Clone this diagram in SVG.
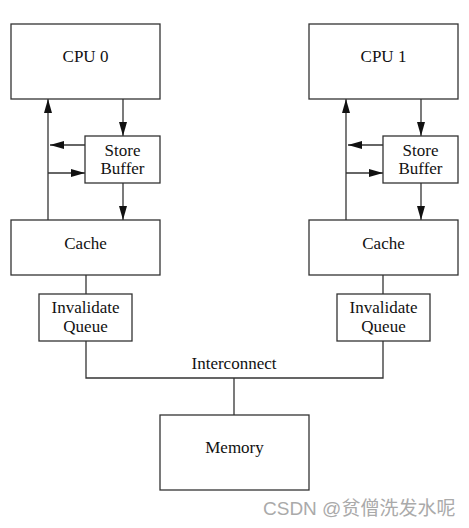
<svg xmlns="http://www.w3.org/2000/svg" width="469" height="528" viewBox="0 0 469 528">
<style>
.box{fill:#fff;stroke:#333;stroke-width:1.3}
.t{font-family:"Liberation Serif",serif;font-size:17px;fill:#111;text-anchor:middle}
.ln{fill:none;stroke:#333;stroke-width:1.3}
.wm{font-family:"Liberation Sans","Noto Sans CJK SC",sans-serif;font-size:19px;fill:#aaa}
</style>
<defs>
<marker id="ah" viewBox="0 0 14 8" refX="14" refY="4" markerWidth="14" markerHeight="8" markerUnits="userSpaceOnUse" orient="auto">
<path d="M0,0 L14,4 L0,8 Z" fill="#111"/>
</marker>
</defs>
<rect width="469" height="528" fill="#fff"/>
<g id="connectors">
<line class="ln" x1="123" y1="99" x2="123" y2="136" marker-end="url(#ah)"/>
<line class="ln" x1="123" y1="183" x2="123" y2="220" marker-end="url(#ah)"/>
<line class="ln" x1="48" y1="220" x2="48" y2="99" marker-end="url(#ah)"/>
<line class="ln" x1="85" y1="145" x2="50" y2="145" marker-end="url(#ah)"/>
<line class="ln" x1="48" y1="173" x2="85" y2="173" marker-end="url(#ah)"/>
<line class="ln" x1="421" y1="99" x2="421" y2="136" marker-end="url(#ah)"/>
<line class="ln" x1="421" y1="183" x2="421" y2="220" marker-end="url(#ah)"/>
<line class="ln" x1="346" y1="220" x2="346" y2="99" marker-end="url(#ah)"/>
<line class="ln" x1="383" y1="145" x2="348" y2="145" marker-end="url(#ah)"/>
<line class="ln" x1="346" y1="173" x2="383" y2="173" marker-end="url(#ah)"/>
<line class="ln" x1="86" y1="275" x2="86" y2="294"/>
<line class="ln" x1="383" y1="275" x2="383" y2="294"/>
<polyline class="ln" points="86,341 86,378 383,378 383,341"/>
<line class="ln" x1="234" y1="378" x2="234" y2="415"/>
</g>
<g id="cpu0"><rect class="box" x="11" y="24" width="149" height="75"/><text class="t" x="85.5" y="62">CPU 0</text></g>
<g id="sb0"><rect class="box" x="85" y="136" width="75" height="47"/><text class="t" x="122.5" y="156">Store</text><text class="t" x="122.5" y="174">Buffer</text></g>
<g id="cache0"><rect class="box" x="11" y="220" width="149" height="55"/><text class="t" x="85.5" y="249">Cache</text></g>
<g id="iq0"><rect class="box" x="39" y="294" width="93" height="47"/><text class="t" x="85.5" y="313">Invalidate</text><text class="t" x="85.5" y="332">Queue</text></g>
<g id="cpu1"><rect class="box" x="309" y="24" width="149" height="75"/><text class="t" x="383.5" y="62">CPU 1</text></g>
<g id="sb1"><rect class="box" x="383" y="136" width="75" height="47"/><text class="t" x="420.5" y="156">Store</text><text class="t" x="420.5" y="174">Buffer</text></g>
<g id="cache1"><rect class="box" x="309" y="220" width="149" height="55"/><text class="t" x="383.5" y="249">Cache</text></g>
<g id="iq1"><rect class="box" x="337" y="294" width="93" height="47"/><text class="t" x="383.5" y="313">Invalidate</text><text class="t" x="383.5" y="332">Queue</text></g>
<g id="interconnect"><text class="t" x="234" y="369">Interconnect</text></g>
<g id="memory"><rect class="box" x="160" y="415" width="149" height="75"/><text class="t" x="234.5" y="453">Memory</text></g>
<text class="wm" x="263" y="515">CSDN @贫僧洗发水呢</text>
</svg>
